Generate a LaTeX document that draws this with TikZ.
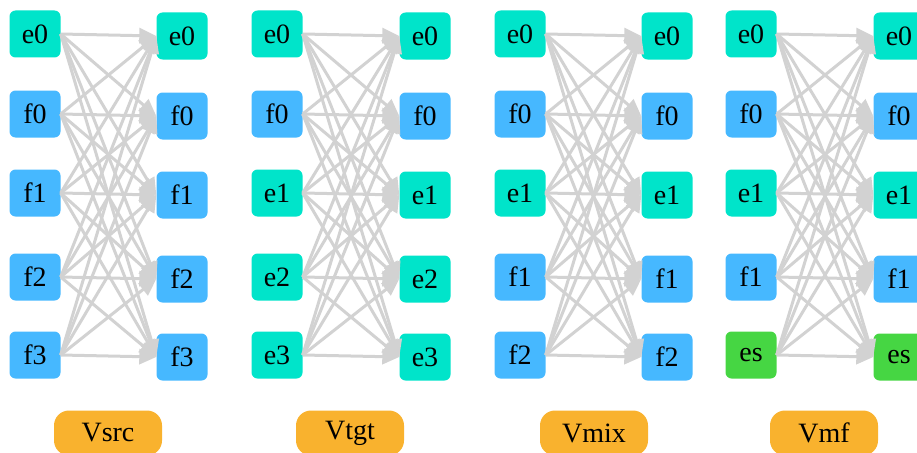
\documentclass[tikz,border=0pt]{standalone}
\usepackage{fontspec}
\setmainfont{Liberation Serif}
\usetikzlibrary{arrows.meta}
\definecolor{eteal}{RGB}{0,228,202}
\definecolor{fblue}{RGB}{70,184,255}
\definecolor{esgreen}{RGB}{70,214,67}
\definecolor{vorange}{RGB}{249,178,46}
\definecolor{edgegray}{RGB}{210,210,210}

\begin{document}
\begin{tikzpicture}
	[x=1pt, y=-1pt,
	 vx/.style={rectangle, rounded corners=6pt, minimum width=51pt, minimum height=47pt,
	            inner sep=0pt, font=\fontsize{28}{32}\selectfont},
	 evx/.style={vx, fill=eteal},
	 fvx/.style={vx, fill=fblue},
	 svx/.style={vx, fill=esgreen},
	 lbl/.style={rectangle, rounded corners=15pt, fill=vorange, minimum width=108pt,
	             minimum height=45pt, inner sep=0pt, font=\fontsize{28}{32}\selectfont},
	 ed/.style={draw=edgegray, line width=3pt, -{Triangle[length=17pt, width=15pt]}}]
	\useasboundingbox (0,0) rectangle (917,452);

	% Vsrc
	\foreach \s/\t/\y [count=\i from 0] in {evx/e0/34, fvx/f0/114, fvx/f1/193, fvx/f2/277, fvx/f3/355} {
		\node[\s] (src-l\i) at (35,\y) {\t};
		\node[\s] (src-r\i) at (182,\y+2) {\t};
	}
	\node[lbl] (src) at (108,433) {Vsrc};

	% Vtgt
	\foreach \s/\t/\y [count=\i from 0] in {evx/e0/34, fvx/f0/114, evx/e1/193, evx/e2/277, evx/e3/355} {
		\node[\s] (tgt-l\i) at (277,\y) {\t};
		\node[\s] (tgt-r\i) at (425,\y+2) {\t};
	}
	\node[lbl] (tgt) at (350,433) {Vtgt};

	% Vmix
	\foreach \s/\t/\y [count=\i from 0] in {evx/e0/34, fvx/f0/114, evx/e1/193, fvx/f1/277, fvx/f2/355} {
		\node[\s] (mix-l\i) at (520,\y) {\t};
		\node[\s] (mix-r\i) at (667,\y+2) {\t};
	}
	\node[lbl] (mix) at (594,433) {Vmix};

	% Vmf
	\foreach \s/\t/\y [count=\i from 0] in {evx/e0/34, fvx/f0/114, evx/e1/193, fvx/f1/277, svx/es/355} {
		\node[\s] (mf-l\i) at (751,\y) {\t};
		\node[\s] (mf-r\i) at (899,\y+2) {\t};
	}
	\node[lbl] (mf) at (824,433) {Vmf};

	% every left node to every right node
	\foreach \g in {src, tgt, mix, mf}
		\foreach \i in {0,...,4}
			\foreach \j in {0,...,4}
				\draw[ed] (\g-l\i.east) -- (\g-r\j.west);
\end{tikzpicture}
\end{document}
